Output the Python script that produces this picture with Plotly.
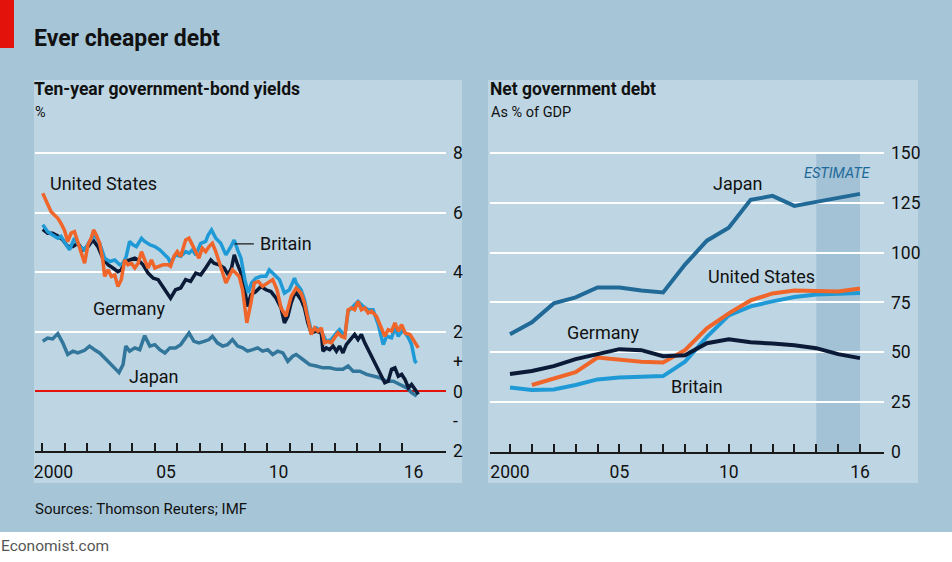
import plotly.graph_objects as go

W, H = 952, 562
def px(x): return x / W
def py(y): return 1 - y / H

# ---------------- Left panel: ten-year government-bond yields, % ----------------
us_x = [2000.02, 2000.24, 2000.39, 2000.54, 2000.69, 2000.83, 2000.98, 2001.13, 2001.28, 2001.43,
        2001.58, 2001.73, 2001.88, 2002.03, 2002.17, 2002.28, 2002.40, 2002.55, 2002.69, 2002.77,
        2002.92, 2003.07, 2003.22, 2003.36, 2003.51, 2003.66, 2003.81, 2003.96, 2004.11, 2004.26,
        2004.41, 2004.55, 2004.70, 2004.85, 2005.00, 2005.15, 2005.37, 2005.60, 2005.70, 2005.85,
        2006.00, 2006.15, 2006.37, 2006.52, 2006.67, 2006.82, 2006.96, 2007.11, 2007.26, 2007.41,
        2007.56, 2007.71, 2007.93, 2008.16, 2008.30, 2008.45, 2008.60, 2008.75, 2008.90, 2009.09,
        2009.27, 2009.42, 2009.60, 2009.79, 2010.02, 2010.24, 2010.43, 2010.61, 2010.83, 2011.06,
        2011.28, 2011.50, 2011.65, 2011.80, 2011.95, 2012.10, 2012.25, 2012.40, 2012.54, 2012.69,
        2012.84, 2012.99, 2013.14, 2013.29, 2013.44, 2013.59, 2013.74, 2013.88, 2014.03, 2014.18,
        2014.33, 2014.48, 2014.63, 2014.85, 2015.07, 2015.22, 2015.37, 2015.52, 2015.67, 2015.82,
        2015.97, 2016.12, 2016.34, 2016.49, 2016.64, 2016.71]
us_y = [6.65, 6.25, 6.03, 5.92, 5.81, 5.64, 5.42, 5.03, 5.31, 5.36,
        5.03, 4.69, 4.30, 4.92, 5.14, 5.42, 5.25, 4.97, 4.41, 3.86,
        4.08, 3.86, 3.91, 3.52, 3.75, 4.41, 4.25, 4.30, 4.14, 4.30,
        4.69, 4.41, 4.14, 4.41, 4.14, 4.19, 4.25, 4.25, 4.20, 4.53,
        4.69, 4.53, 5.08, 5.14, 4.92, 4.64, 4.47, 4.81, 4.69, 4.86,
        4.97, 4.69, 4.19, 3.64, 3.86, 4.08, 3.97, 3.86, 3.41, 2.30,
        2.97, 3.64, 3.69, 3.52, 3.64, 3.75, 3.41, 2.80, 2.52, 3.19,
        3.47, 3.30, 2.97, 2.41, 1.91, 2.13, 2.02, 2.13, 1.63, 1.68,
        1.63, 1.80, 1.96, 1.85, 1.80, 2.74, 2.80, 2.74, 3.02, 2.74,
        2.80, 2.63, 2.69, 2.52, 2.13, 1.85, 2.07, 2.02, 2.30, 2.02,
        2.24, 1.96, 1.91, 1.74, 1.52, 1.46]

uk_x = [2000.02, 2000.24, 2000.46, 2000.69, 2000.83, 2001.06, 2001.21, 2001.43, 2001.65, 2001.88,
        2002.10, 2002.32, 2002.55, 2002.77, 2002.99, 2003.22, 2003.44, 2003.59, 2003.73, 2003.88,
        2004.03, 2004.18, 2004.41, 2004.55, 2004.78, 2005.00, 2005.22, 2005.45, 2005.60, 2005.70,
        2005.92, 2006.15, 2006.37, 2006.52, 2006.67, 2006.82, 2007.04, 2007.26, 2007.37, 2007.52,
        2007.71, 2007.93, 2008.16, 2008.38, 2008.53, 2008.68, 2008.83, 2009.00, 2009.15, 2009.30,
        2009.49, 2009.72, 2009.94, 2010.09, 2010.31, 2010.54, 2010.76, 2010.98, 2011.21, 2011.28,
        2011.50, 2011.65, 2011.80, 2011.95, 2012.17, 2012.40, 2012.62, 2012.84, 2013.07, 2013.21,
        2013.44, 2013.59, 2013.81, 2014.03, 2014.26, 2014.48, 2014.70, 2014.93, 2015.15, 2015.30,
        2015.52, 2015.67, 2015.82, 2016.04, 2016.27, 2016.41, 2016.56, 2016.64]
uk_y = [5.59, 5.36, 5.25, 5.14, 5.20, 4.92, 4.75, 5.14, 4.86, 4.75,
        5.03, 5.25, 4.97, 4.47, 4.36, 4.41, 4.25, 4.30, 4.53, 5.03,
        4.92, 4.86, 5.14, 5.03, 4.92, 4.86, 4.75, 4.58, 4.47, 4.30,
        4.58, 4.53, 4.69, 4.64, 4.75, 4.58, 4.97, 5.03, 5.25, 5.42,
        5.14, 4.97, 4.58, 4.86, 5.08, 4.75, 4.47, 3.75, 3.30, 3.64,
        3.80, 3.86, 3.86, 4.08, 3.91, 3.75, 3.30, 3.41, 3.80, 3.64,
        3.41, 3.08, 2.52, 2.02, 2.13, 2.02, 1.68, 1.74, 1.96, 2.07,
        1.85, 2.69, 2.85, 3.02, 2.85, 2.74, 2.74, 2.24, 1.57, 1.85,
        1.80, 2.13, 1.85, 2.07, 1.80, 1.57, 1.01, 0.96]

de_x = [2000.02, 2000.24, 2000.46, 2000.69, 2000.91, 2001.13, 2001.36, 2001.58, 2001.80, 2002.03,
        2002.25, 2002.47, 2002.69, 2002.92, 2003.14, 2003.36, 2003.51, 2003.66, 2003.88, 2004.11,
        2004.26, 2004.48, 2004.70, 2004.93, 2005.15, 2005.37, 2005.60, 2005.70, 2005.92, 2006.15,
        2006.37, 2006.59, 2006.82, 2007.04, 2007.26, 2007.49, 2007.63, 2007.86, 2008.08, 2008.26,
        2008.41, 2008.53, 2008.68, 2008.83, 2008.97, 2009.12, 2009.27, 2009.49, 2009.72, 2009.94,
        2010.16, 2010.39, 2010.61, 2010.76, 2010.91, 2011.06, 2011.24, 2011.50, 2011.65, 2011.80,
        2011.95, 2012.17, 2012.40, 2012.47, 2012.62, 2012.77, 2012.92, 2013.07, 2013.21, 2013.36,
        2013.51, 2013.74, 2013.88, 2014.03, 2014.18, 2014.33, 2014.55, 2014.78, 2015.00, 2015.22,
        2015.37, 2015.52, 2015.67, 2015.82, 2015.97, 2016.12, 2016.27, 2016.41, 2016.56, 2016.71]
de_y = [5.44, 5.31, 5.31, 5.22, 5.08, 4.86, 4.86, 4.97, 4.75, 4.86,
        5.08, 4.86, 4.47, 4.25, 4.14, 4.02, 4.08, 4.36, 4.41, 4.47,
        4.41, 4.25, 3.97, 3.80, 3.75, 3.52, 3.24, 3.13, 3.41, 3.47,
        3.75, 3.69, 3.97, 3.91, 4.14, 4.41, 4.30, 4.25, 4.14, 3.91,
        4.14, 4.58, 4.25, 3.97, 3.52, 2.85, 3.24, 3.35, 3.52, 3.41,
        3.35, 3.13, 2.80, 2.30, 2.52, 2.97, 3.35, 3.08, 2.80, 2.30,
        1.96, 2.02, 1.96, 1.35, 1.46, 1.40, 1.52, 1.35, 1.52, 1.29,
        1.57, 1.80, 1.91, 1.74, 1.91, 1.63, 1.29, 0.96, 0.63, 0.29,
        0.34, 0.74, 0.79, 0.51, 0.57, 0.40, 0.12, 0.23, 0.07, -0.10]

jp_x = [2000.02, 2000.24, 2000.46, 2000.69, 2000.91, 2001.13, 2001.36, 2001.58, 2001.88, 2002.10,
        2002.32, 2002.55, 2002.84, 2003.14, 2003.41, 2003.59, 2003.71, 2003.88, 2004.11, 2004.33,
        2004.55, 2004.78, 2005.00, 2005.22, 2005.45, 2005.67, 2005.92, 2006.15, 2006.37, 2006.52,
        2006.74, 2006.96, 2007.19, 2007.41, 2007.56, 2007.78, 2008.01, 2008.23, 2008.45, 2008.68,
        2008.90, 2009.12, 2009.35, 2009.57, 2009.79, 2010.02, 2010.24, 2010.46, 2010.69, 2010.91,
        2011.13, 2011.28, 2011.58, 2011.88, 2012.17, 2012.47, 2012.77, 2013.07, 2013.36, 2013.59,
        2013.81, 2014.11, 2014.41, 2014.70, 2015.00, 2015.30, 2015.60, 2015.89, 2016.19, 2016.41,
        2016.64]
jp_y = [1.68, 1.79, 1.76, 1.94, 1.63, 1.24, 1.35, 1.29, 1.38, 1.52,
        1.40, 1.29, 1.07, 0.85, 0.63, 0.90, 1.52, 1.35, 1.46, 1.40,
        1.87, 1.52, 1.57, 1.40, 1.29, 1.46, 1.46, 1.57, 1.79, 1.96,
        1.68, 1.63, 1.68, 1.74, 1.85, 1.63, 1.52, 1.57, 1.74, 1.52,
        1.46, 1.35, 1.40, 1.46, 1.35, 1.40, 1.24, 1.35, 1.29, 1.01,
        1.18, 1.24, 1.07, 0.90, 0.85, 0.79, 0.79, 0.74, 0.74, 0.85,
        0.68, 0.68, 0.57, 0.51, 0.46, 0.34, 0.34, 0.23, 0.12, -0.04,
        -0.16]

left_grid_vals = [2, 4, 6, 8]
left_grid_text = ["2", "4", "6", "8"]
left_tick_vals = [1, 0, -1, -2]
left_tick_text = ["+", "0", "-", "2"]
left_year_ticks = list(range(2000, 2017))
left_label_vals = [2000.5, 2005.5, 2010.5, 2016.5]
left_label_text = ["2000", "05", "10", "16"]

# ---------------- Right panel: net government debt, % of GDP ----------------
years = list(range(2000, 2017))
debt_japan = [59, 65, 74.5, 77.5, 82.5, 82.5, 81, 80, 94, 106, 112.5, 126.5, 128.5, 123.5, 125.5, 127.5, 129.5]
debt_germany = [39, 40.5, 43, 46.5, 49, 51.5, 51, 48, 48.5, 54.5, 56.5, 55, 54.3, 53.5, 52, 49, 47]
debt_us = [None, 33.5, 36.5, 40, 47.3, 46.3, 45.2, 44.8, 51, 62, 69.5, 76, 79.5, 81, 80.5, 80.5, 82]
debt_britain = [32.3, 31, 31.3, 33.5, 36.3, 37.3, 37.7, 38, 45.2, 57.7, 68.5, 73, 75.5, 77.7, 79, 79.3, 79.7]
right_tick_vals = [0, 25, 50, 75, 100, 125, 150]
right_label_vals = [2000, 2005, 2010, 2016]
right_label_text = ["2000", "05", "10", "16"]
estimate_start, estimate_end = 2014, 2016

# ---------------- Styles ----------------
FONT = "Roboto"
C_US = "#f0652a"
C_UK = "#1f9ad6"
C_DE = "#0b1a36"
C_JP_L = "#33769b"
C_JP_R = "#216a98"
BG = "#a6c6d8"
PANEL = "#bed6e3"
DARK = "#1a1a1a"

fig = go.Figure()

fig.add_trace(go.Scatter(x=jp_x, y=jp_y, mode="lines", line=dict(color=C_JP_L, width=3.5), xaxis="x", yaxis="y"))
fig.add_trace(go.Scatter(x=de_x, y=de_y, mode="lines", line=dict(color=C_DE, width=3.5), xaxis="x", yaxis="y"))
fig.add_trace(go.Scatter(x=uk_x, y=uk_y, mode="lines", line=dict(color=C_UK, width=3.5), xaxis="x", yaxis="y"))
fig.add_trace(go.Scatter(x=us_x, y=us_y, mode="lines", line=dict(color=C_US, width=3.5), xaxis="x", yaxis="y"))
fig.add_trace(go.Scatter(x=[], y=[], mode="lines", xaxis="x", yaxis="y3", hoverinfo="skip"))

fig.add_trace(go.Scatter(x=years, y=debt_britain, mode="lines", line=dict(color=C_UK, width=4), xaxis="x2", yaxis="y2"))
fig.add_trace(go.Scatter(x=years, y=debt_us, mode="lines", line=dict(color=C_US, width=4), xaxis="x2", yaxis="y2"))
fig.add_trace(go.Scatter(x=years, y=debt_germany, mode="lines", line=dict(color=C_DE, width=4), xaxis="x2", yaxis="y2"))
fig.add_trace(go.Scatter(x=years, y=debt_japan, mode="lines", line=dict(color=C_JP_R, width=4), xaxis="x2", yaxis="y2"))

tickfont = dict(family=FONT, size=17.5, color="#111")

L_RANGE = [-2, 8.06]
L_DOM = [py(451), py(451 - 10.06 * 29.8)]
R_RANGE = [0, 151]
R_DOM = [py(451.7), py(451.7 - 151 * 1.9907)]

fig.update_layout(
    template="none",
    width=W, height=H, autosize=False,
    margin=dict(l=0, r=0, t=0, b=0, pad=0, autoexpand=False),
    paper_bgcolor=BG,
    plot_bgcolor="rgba(0,0,0,0)",
    showlegend=False,
    hovermode=False,
    font=dict(family=FONT, color="#111"),
    xaxis=dict(domain=[px(35), px(446)], range=[1999.676, 2017.94], anchor="y", automargin=False,
               tickvals=left_label_vals, ticktext=left_label_text, ticks="",
               tickfont=tickfont, ticklabelstandoff=4,
               minor=dict(tickvals=left_year_ticks, ticks="inside", ticklen=8, tickwidth=1.5, tickcolor=DARK, showgrid=False),
               showgrid=False, zeroline=False, showline=True, linecolor=DARK, linewidth=1.5),
    yaxis=dict(domain=L_DOM, range=L_RANGE, anchor="x", side="right", automargin=False,
               tickvals=left_grid_vals, ticktext=left_grid_text, ticks="",
               tickfont=tickfont, ticklabelstandoff=6,
               showgrid=True, gridcolor="white", gridwidth=2,
               zeroline=True, zerolinecolor="#e3120b", zerolinewidth=1.6, showline=False),
    yaxis3=dict(domain=L_DOM, range=L_RANGE, anchor="x", side="right", overlaying="y", automargin=False,
                tickvals=left_tick_vals, ticktext=left_tick_text, ticks="",
                tickfont=tickfont, ticklabelstandoff=6,
                showgrid=False, zeroline=False, showline=False),
    xaxis2=dict(domain=[px(490), px(884)], range=[1999.086, 2017.097], anchor="y2", automargin=False,
                tickvals=right_label_vals, ticktext=right_label_text, ticks="inside", ticklen=8,
                tickwidth=1.5, tickcolor=DARK, tickfont=tickfont, ticklabelstandoff=4,
                minor=dict(tickvals=years, ticks="inside", ticklen=8, tickwidth=1.5, tickcolor=DARK, showgrid=False),
                showgrid=False, zeroline=False, showline=True, linecolor=DARK, linewidth=1.5),
    yaxis2=dict(domain=R_DOM, range=R_RANGE, anchor="x2", side="right", automargin=False,
                tickvals=right_tick_vals, ticks="", tickfont=tickfont, ticklabelstandoff=6,
                showgrid=True, gridcolor="white", gridwidth=2, zeroline=False, showline=False),
)

shapes = [
    dict(type="rect", xref="paper", yref="paper", x0=px(34), x1=px(462), y0=py(483), y1=py(80),
         fillcolor=PANEL, line=dict(width=0), layer="below"),
    dict(type="rect", xref="paper", yref="paper", x0=px(488), x1=px(918), y0=py(483), y1=py(80),
         fillcolor=PANEL, line=dict(width=0), layer="below"),
    dict(type="rect", xref="paper", yref="paper", x0=0, x1=1, y0=0, y1=py(532),
         fillcolor="white", line=dict(width=0), layer="below"),
    dict(type="rect", xref="paper", yref="paper", x0=0, x1=px(14), y0=py(48), y1=1,
         fillcolor="#e3120b", line=dict(width=0), layer="below"),
    dict(type="rect", xref="x2", yref="y2", x0=estimate_start, x1=estimate_end, y0=0, y1=150,
         fillcolor="#a4c2d6", line=dict(width=0), layer="below"),
    dict(type="line", xref="x", yref="y", x0=2008.55, x1=2009.4, y0=4.95, y1=4.95,
         line=dict(color=DARK, width=1.3)),
]
fig.update_layout(shapes=shapes)

def ann(text, x, y, size=18, xanchor="left", color="#111", xref="paper", yref="paper", bold=False, italic=False):
    t = text
    if bold:
        t = "<b>" + t + "</b>"
    if italic:
        t = "<i>" + t + "</i>"
    return dict(text=t, x=x, y=y, xref=xref, yref=yref, xanchor=xanchor, yanchor="middle",
                showarrow=False, font=dict(family=FONT, size=size, color=color))

annotations = [
    ann("Ever cheaper debt", px(32), py(38), size=23, bold=True),
    ann("Ten-year government-bond yields", px(32), py(89), size=17.5, bold=True),
    ann("%", px(33), py(113), size=14.5),
    ann("Net government debt", px(488), py(89), size=17.5, bold=True),
    ann("As % of GDP", px(489), py(113), size=14.5),
    ann("Sources: Thomson Reuters; IMF", px(33), py(509), size=15),
    ann("Economist.com", px(-1), py(546), size=15.5, color="#555"),
    ann("United States", 2000.25, 6.96, xref="x", yref="y"),
    ann("Britain", 2009.6, 4.95, xref="x", yref="y"),
    ann("Germany", 2003.87, 2.78, xanchor="center", xref="x", yref="y"),
    ann("Japan", 2004.95, 0.5, xanchor="center", xref="x", yref="y"),
    ann("Japan", 2010.41, 134.5, xanchor="center", xref="x2", yref="y2"),
    ann("United States", 2011.51, 88, xanchor="center", xref="x2", yref="y2"),
    ann("Germany", 2004.25, 60, xanchor="center", xref="x2", yref="y2"),
    ann("Britain", 2008.54, 33, xanchor="center", xref="x2", yref="y2"),
    ann("ESTIMATE", 2014.98, 140, size=14.5, xanchor="center", color="#1d6a9a", xref="x2", yref="y2", italic=True),
]
fig.update_layout(annotations=annotations)

fig.write_html("out.html", config={"displayModeBar": False, "responsive": False},
               post_script="document.body.style.margin='0';document.body.style.overflow='hidden';")
